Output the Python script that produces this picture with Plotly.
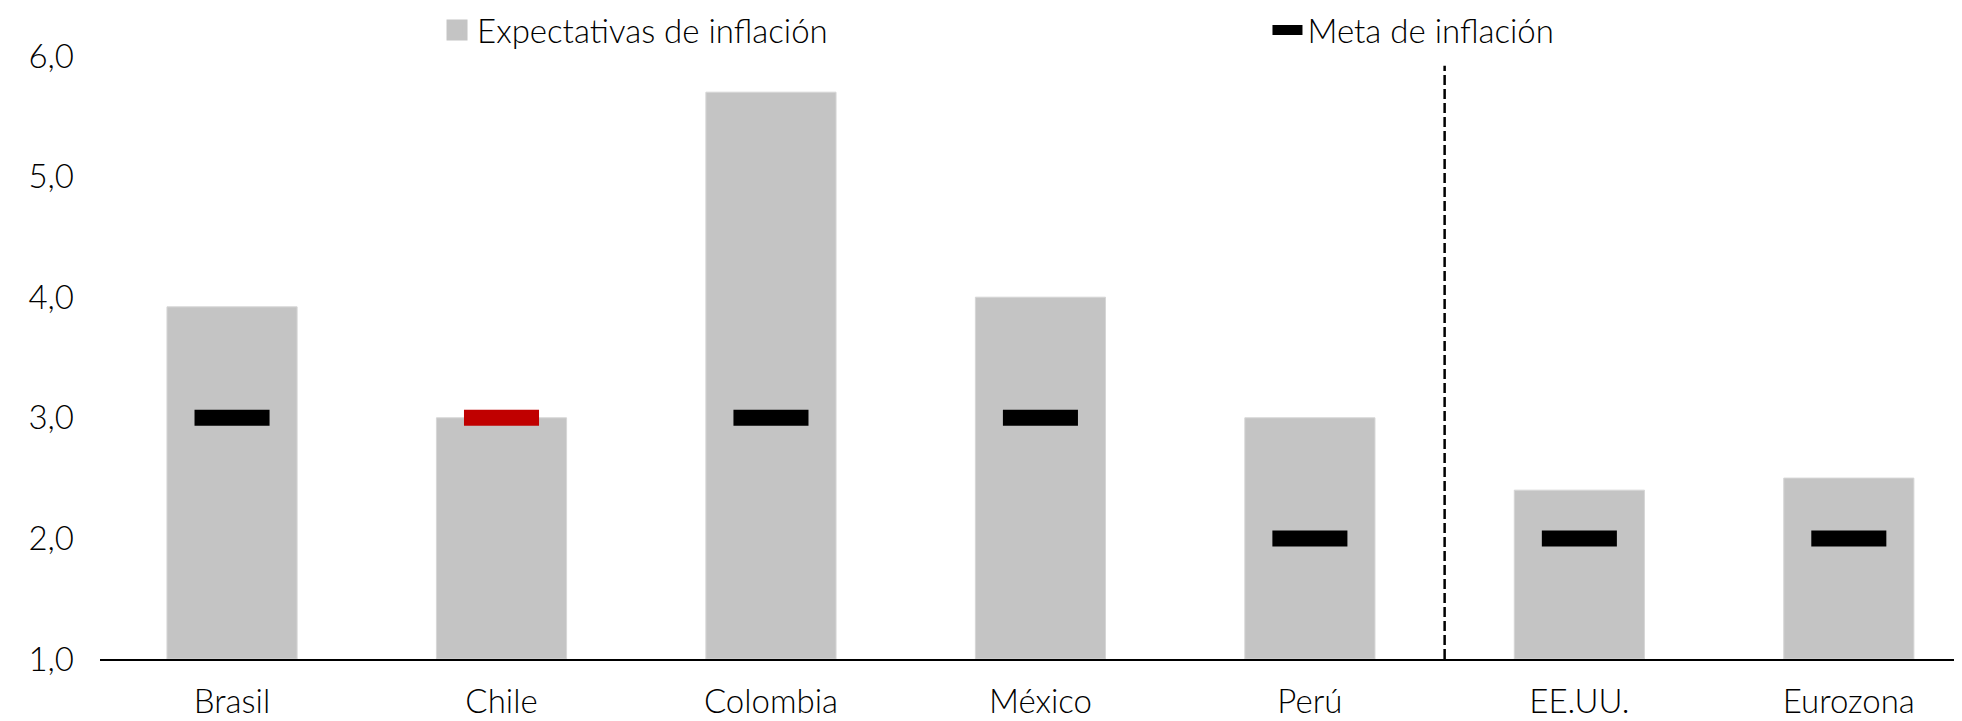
import plotly.graph_objects as go

categories = ["Brasil", "Chile", "Colombia", "México", "Perú", "EE.UU.", "Eurozona"]
expectativas = [3.92, 3.0, 5.70, 4.0, 3.0, 2.4, 2.5]
meta = [3.0, 3.0, 3.0, 3.0, 2.0, 2.0, 2.0]
meta_colors = ["#000000", "#C00000", "#000000", "#000000", "#000000", "#000000", "#000000"]
y_ticks = [1.0, 2.0, 3.0, 4.0, 5.0, 6.0]
y_tick_labels = ["1,0", "2,0", "3,0", "4,0", "5,0", "6,0"]
divider_after = "Perú"

x_idx = list(range(len(categories)))
FONT = "Lato"
FS = 33
WEIGHT = 300

fig = go.Figure()
fig.add_trace(go.Bar(
    x=x_idx, y=[v - 1.0 for v in expectativas], base=1.0,
    width=0.483, showlegend=False,
    marker=dict(color="#C4C4C4", line=dict(color="#D6D6D6", width=1)),
    hoverinfo="skip",
))
fig.add_trace(go.Scatter(
    x=[None], y=[None], mode="markers", name="Expectativas de inflación",
    marker=dict(symbol="square", size=16, color="#C4C4C4",
                line=dict(color="#C4C4C4", width=5)), legend="legend",
))
fig.add_trace(go.Scatter(
    x=x_idx, y=meta, mode="markers", showlegend=False,
    marker=dict(symbol="line-ew", size=53.6, color=meta_colors,
                line=dict(color=meta_colors, width=16)),
    hoverinfo="skip",
))
fig.add_trace(go.Scatter(
    x=[None], y=[None], mode="lines", name="Meta de inflación",
    line=dict(color="#000000", width=11), legend="legend2",
))

div_x = categories.index(divider_after) + 0.5
fig.add_shape(type="line", xref="x", yref="y", x0=div_x, x1=div_x, y0=1.0, y1=5.92,
              line=dict(color="#000000", width=2.5, dash="10px,4px"))

fnt = dict(family=FONT, size=FS, color="#000000", weight=WEIGHT)
fig.update_layout(
    width=1954, height=713,
    margin=dict(l=92, r=0, t=48, b=62, autoexpand=False),
    plot_bgcolor="white", paper_bgcolor="white",
    font=fnt,
    barmode="overlay",
    xaxis=dict(range=[-0.49, 6.42], tickvals=x_idx, ticktext=categories,
               showgrid=False, zeroline=False, showline=True, linecolor="#000000",
               linewidth=2, ticks="", ticklabelstandoff=12, tickfont=fnt),
    yaxis=dict(range=[1.0, 6.0], tickvals=y_ticks, ticktext=y_tick_labels,
               showgrid=False, zeroline=False, showline=False, ticks="",
               ticklabelstandoff=25, tickfont=fnt),
    legend=dict(orientation="h", x=0.181, xanchor="left", y=0.969, yanchor="middle",
                yref="container", font=fnt, bgcolor="rgba(0,0,0,0)", itemsizing="trace"),
    legend2=dict(orientation="h", x=0.627, xanchor="left", y=0.969, yanchor="middle",
                 yref="container", font=fnt, bgcolor="rgba(0,0,0,0)"),
)

fig.write_html("out.html")
